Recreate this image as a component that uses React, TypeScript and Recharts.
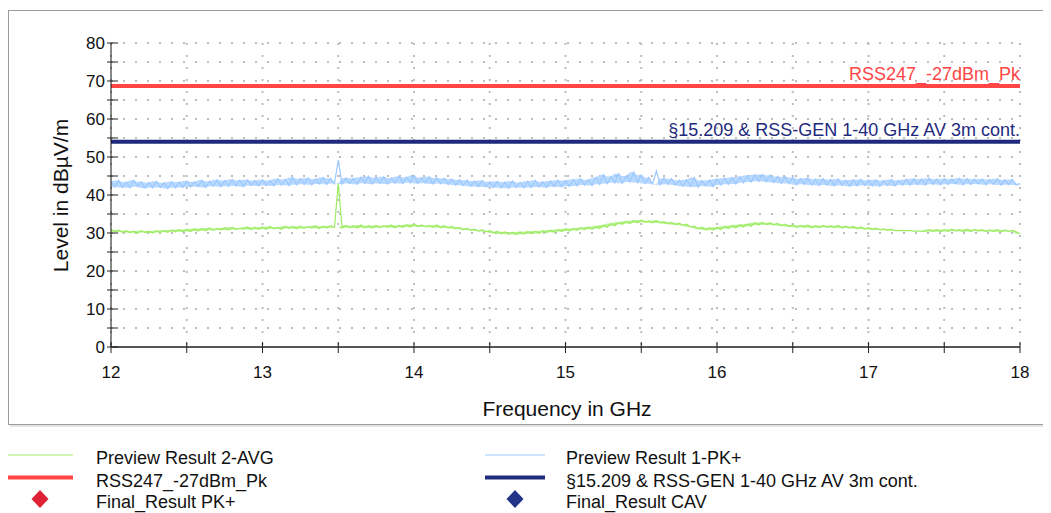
import { Area, CartesianGrid, ComposedChart, Line, ReferenceLine, XAxis, YAxis } from 'recharts';

// sweep grid of the preview scans (GHz)
const FREQ_START = 12;
const FREQ_STEP = 0.025;

// Preview Result 1-PK+ (dBµV/m), one value per sweep step
const PREVIEW_PK = [
  43.6, 42.1, 43.8, 42.0, 43.4, 41.9, 43.9, 42.2, 43.5, 41.8,
  43.3, 41.9, 43.6, 42.0, 43.2, 41.7, 43.5, 41.9, 43.4, 42.0,
  43.7, 42.1, 43.5, 42.2, 43.9, 42.0, 43.6, 42.3, 44.0, 42.2,
  43.8, 42.3, 44.1, 42.4, 43.9, 42.2, 44.0, 42.5, 43.8, 42.4,
  44.0, 42.5, 43.8, 42.4, 44.3, 42.6, 44.1, 42.5, 44.6, 42.7,
  44.3, 42.8, 44.5, 42.7, 44.2, 42.9, 44.6, 42.8, 44.4, 43.0,
  49.2,
  42.9, 44.5, 43.0, 44.4, 42.8, 44.7, 43.1, 44.9, 42.9,
  44.6, 43.0, 44.8, 42.9, 44.5, 43.1, 44.9, 43.0, 44.7, 43.2,
  45.1, 43.0, 44.6, 43.1, 44.8, 42.9, 44.5, 43.0, 44.4, 42.8,
  44.2, 42.6, 44.0, 42.5, 43.9, 42.3, 43.7, 42.2, 43.8, 42.1,
  43.5, 42.0, 43.6, 41.9, 43.4, 41.8, 43.7, 42.0, 43.3, 41.9,
  43.6, 42.0, 43.8, 42.1, 43.5, 42.0, 43.7, 42.2, 43.9, 42.1,
  43.8, 42.3, 44.1, 42.4, 44.3, 42.6, 44.0, 42.5, 44.6, 42.8,
  45.3, 43.0, 44.9, 43.2, 45.6, 43.1, 45.0, 43.4, 46.0, 43.3,
  45.2, 43.0, 44.6, 42.9, 46.3, 42.7, 44.4, 42.8, 44.3, 42.6,
  43.9, 42.3, 44.0, 42.2, 44.6, 42.1, 43.8, 42.4, 43.9, 42.2,
  44.2, 42.6, 44.4, 42.8, 44.6, 42.9, 44.8, 43.2, 45.1, 43.4,
  45.3, 43.6, 45.4, 43.5, 45.2, 43.3, 44.9, 43.1, 44.8, 43.0,
  44.6, 42.7, 44.3, 42.8, 44.5, 42.6, 44.2, 42.5, 44.3, 42.6,
  44.1, 42.4, 44.2, 42.5, 43.9, 42.3, 44.0, 42.4, 44.1, 42.5,
  43.9, 42.4, 44.0, 42.3, 43.8, 42.5, 44.1, 42.4, 43.9, 42.6,
  44.1, 42.6, 44.3, 42.7, 44.2, 42.6, 44.4, 42.8, 44.2, 42.7,
  44.3, 42.8, 44.2, 42.9, 44.4, 42.7, 44.3, 42.8, 44.2, 42.9,
  44.2, 42.7, 44.1, 42.8, 44.3, 42.6, 44.0, 42.7, 44.1, 42.6, 43.0,
];

// Preview Result 2-AVG (dBµV/m)
const PREVIEW_AVG = [
  30.9, 30.3, 30.8, 30.2, 30.6, 30.1, 30.5, 30.0, 30.6, 30.1,
  30.5, 30.0, 30.6, 30.1, 30.7, 30.2, 30.8, 30.3, 30.9, 30.3,
  31.0, 30.4, 31.1, 30.5, 31.2, 30.6, 31.3, 30.7, 31.2, 30.8,
  31.4, 30.8, 31.5, 30.9, 31.3, 31.0, 31.6, 30.9, 31.5, 31.0,
  31.6, 31.0, 31.7, 31.1, 31.5, 31.0, 31.8, 31.2, 31.7, 31.1,
  31.8, 31.2, 31.7, 31.3, 31.9, 31.2, 31.8, 31.3, 31.9, 31.4,
  43.0,
  31.3, 32.0, 31.4, 31.9, 31.3, 32.1, 31.4, 31.9, 31.3,
  32.0, 31.4, 31.9, 31.5, 32.1, 31.4, 32.0, 31.5, 32.2, 31.6,
  32.3, 31.7, 32.1, 31.6, 32.0, 31.5, 32.1, 31.4, 31.9, 31.3,
  31.7, 31.1, 31.5, 30.9, 31.2, 30.7, 31.0, 30.5, 30.8, 30.3,
  30.6, 30.0, 30.4, 29.8, 30.3, 29.7, 30.2, 29.6, 30.3, 29.7,
  30.4, 29.8, 30.5, 29.9, 30.6, 30.1, 30.8, 30.2, 30.9, 30.4,
  31.1, 30.5, 31.2, 30.7, 31.4, 30.9, 31.6, 31.0, 31.8, 31.2,
  32.1, 31.5, 32.5, 31.9, 32.8, 32.3, 33.1, 32.5, 33.3, 32.7,
  33.4, 32.8, 33.2, 32.7, 33.3, 32.6, 33.0, 32.4, 32.8, 32.2,
  32.6, 32.0, 32.3, 31.6, 31.8, 31.1, 31.5, 30.8, 31.4, 30.8,
  31.5, 30.9, 31.8, 31.2, 32.0, 31.4, 32.2, 31.6, 32.4, 31.8,
  32.7, 32.1, 32.8, 32.2, 32.7, 32.1, 32.5, 31.9, 32.3, 31.7,
  32.1, 31.5, 32.0, 31.5, 32.1, 31.4, 31.9, 31.4, 32.0, 31.5,
  31.9, 31.4, 32.0, 31.3, 31.8, 31.3, 31.7, 31.1, 31.6, 31.0,
  31.4, 30.9, 31.3, 30.8, 31.1, 30.7, 31.0, 30.6, 30.7, 30.6,
  30.6, 30.6, 30.5, 30.5, 30.5, 30.4, 30.9, 30.4, 30.9, 30.3,
  30.9, 30.4, 31.0, 30.5, 30.9, 30.4, 31.0, 30.4, 30.9, 30.5,
  30.9, 30.4, 30.8, 30.4, 30.9, 30.3, 30.8, 30.4, 30.7, 30.3, 29.8,
];

const LIMIT_PK = 68.7; // RSS247_-27dBm_Pk
const LIMIT_AV = 54; // §15.209 & RSS-GEN 1-40 GHz AV 3m cont.

const X_TICKS = [12, 12.5, 13, 13.5, 14, 14.5, 15, 15.5, 16, 16.5, 17, 17.5, 18];
const Y_TICKS = [0, 5, 10, 15, 20, 25, 30, 35, 40, 45, 50, 55, 60, 65, 70, 75, 80];

// envelope of neighbouring sweep points, single-point spikes left to the trace itself
function envelope(vals: number[]) {
  const clean = vals.map((v, k) => {
    const p = vals[Math.max(k - 1, 0)];
    const n = vals[Math.min(k + 1, vals.length - 1)];
    return v - Math.max(p, n) > 3 ? Math.max(p, n) : v;
  });
  return clean.map((v, k) => {
    const n = clean[Math.min(k + 1, clean.length - 1)];
    return [Math.min(v, n), Math.max(v, n)];
  });
}

const pkBand = envelope(PREVIEW_PK);
const avgBand = envelope(PREVIEW_AVG);

const rows = PREVIEW_PK.map((pk, i) => ({
  f: FREQ_START + i * FREQ_STEP,
  pk,
  avg: PREVIEW_AVG[i],
  pkBand: pkBand[i],
  avgBand: avgBand[i],
}));

const FONT = '"Liberation Sans", Arial, sans-serif';
const C_PK = '#9cc9ff';
const C_AVG = '#9dec64';
const C_RED = '#ff4545';
const C_NAVY = '#1f2a7c';

function XTick(props: any) {
  const { x, y, payload } = props;
  const v = payload.value;
  return (
    <g>
      <line x1={x} x2={x} y1={y - 5} y2={y + 6} stroke="#222" />
      {Number.isInteger(v) && (
        <text x={x} y={y + 31} textAnchor="middle" fontSize={17} fill="#111">
          {v}
        </text>
      )}
    </g>
  );
}

function YTick(props: any) {
  const { x, y, payload } = props;
  const v = payload.value;
  return (
    <g>
      <line x1={x - 4} x2={x + 7} y1={y} y2={y} stroke="#222" />
      {v % 10 === 0 && (
        <text x={x - 6} y={y + 6} textAnchor="end" fontSize={17} fill="#111">
          {v}
        </text>
      )}
    </g>
  );
}

function limitLabel(text: string, color: string) {
  return (props: any) => {
    const vb = props.viewBox;
    return (
      <text x={vb.x + vb.width} y={vb.y - 6} textAnchor="end" fontSize={18} fill={color}>
        {text}
      </text>
    );
  };
}

function Legend() {
  const items = [
    { x: 7, w: 66, tx: 96, row: 0, color: C_AVG, sw: 1, text: 'Preview Result 2-AVG' },
    { x: 485, w: 60, tx: 566, row: 0, color: C_PK, sw: 1, text: 'Preview Result 1-PK+' },
    { x: 7, w: 66, tx: 96, row: 1, color: C_RED, sw: 4, text: 'RSS247_-27dBm_Pk' },
    { x: 485, w: 60, tx: 566, row: 1, color: C_NAVY, sw: 4, text: '§15.209 & RSS-GEN 1-40 GHz AV 3m cont.' },
  ];
  const marks = [
    { cx: 40, tx: 96, color: '#dd2233', text: 'Final_Result PK+' },
    { cx: 515, tx: 566, color: '#223388', text: 'Final_Result CAV' },
  ];
  const rowY = [17, 39.5, 61];
  return (
    <svg width={1051} height={75} style={{ position: 'absolute', left: -8, top: 430 }}>
      {items.map((it) => (
        <g key={it.text}>
          <line x1={it.x} x2={it.x + it.w} y1={rowY[it.row]} y2={rowY[it.row]} stroke={it.color} strokeWidth={it.sw} />
          <text x={it.tx} y={rowY[it.row] + 9} fontSize={18} fill="#111">
            {it.text}
          </text>
        </g>
      ))}
      {marks.map((m) => (
        <g key={m.text}>
          <polygon
            points={`${m.cx},${rowY[2] - 9} ${m.cx + 8.5},${rowY[2]} ${m.cx},${rowY[2] + 9} ${m.cx - 8.5},${rowY[2]}`}
            fill={m.color}
          />
          <text x={m.tx} y={rowY[2] + 9} fontSize={18} fill="#111">
            {m.text}
          </text>
        </g>
      ))}
    </svg>
  );
}

export default function App() {
  return (
    <div style={{ position: 'relative', width: 1043, height: 505, fontFamily: FONT }}>
      <style>{'body{overflow:hidden}'}</style>
      <div
        style={{
          position: 'absolute',
          left: 0,
          top: 2,
          width: 1037,
          height: 413,
          border: '1px solid #9c9c9c',
          boxShadow: '2px 2px 0 #e4e4e4',
          background: '#fff',
        }}
      >
        <ComposedChart width={1037} height={413} data={rows} margin={{ top: 32, right: 26, bottom: 47, left: 42 }}>
          <CartesianGrid stroke="#bdbdbd" strokeWidth={2} strokeDasharray="2 10" />
          <XAxis
            type="number"
            dataKey="f"
            domain={[12, 18]}
            ticks={X_TICKS}
            interval={0}
            height={30}
            tickSize={0}
            tickMargin={0}
            tick={<XTick />}
            axisLine={{ stroke: '#555', strokeWidth: 2 }}
            label={() => (
              <text x={558} y={405} textAnchor="middle" fontSize={21} fill="#111">
                Frequency in GHz
              </text>
            )}
          />
          <YAxis
            type="number"
            domain={[0, 80]}
            ticks={Y_TICKS}
            interval={0}
            width={60}
            tickSize={0}
            tickMargin={0}
            tick={<YTick />}
            axisLine={{ stroke: '#111', strokeWidth: 1 }}
            label={() => (
              <text
                x={59}
                y={184.5}
                transform="rotate(-90, 59, 184.5)"
                textAnchor="middle"
                fontSize={21}
                fill="#111"
              >
                Level in dBµV/m
              </text>
            )}
          />
          <Area
            type="linear"
            dataKey="pkBand"
            stroke="none"
            fill={C_PK}
            fillOpacity={0.7}
            dot={false}
            activeDot={false}
            isAnimationActive={false}
          />
          <Line
            type="linear"
            dataKey="pk"
            stroke={C_PK}
            strokeWidth={1.2}
            dot={false}
            activeDot={false}
            isAnimationActive={false}
          />
          <Area
            type="linear"
            dataKey="avgBand"
            stroke="none"
            fill={C_AVG}
            fillOpacity={0.7}
            dot={false}
            activeDot={false}
            isAnimationActive={false}
          />
          <Line
            type="linear"
            dataKey="avg"
            stroke={C_AVG}
            strokeWidth={1.2}
            dot={false}
            activeDot={false}
            isAnimationActive={false}
          />
          <ReferenceLine y={LIMIT_PK} stroke={C_RED} strokeWidth={4} label={limitLabel('RSS247_-27dBm_Pk', C_RED)} />
          <ReferenceLine
            y={LIMIT_AV}
            stroke={C_NAVY}
            strokeWidth={4}
            label={limitLabel('§15.209 & RSS-GEN 1-40 GHz AV 3m cont.', C_NAVY)}
          />
        </ComposedChart>
      </div>
      <Legend />
    </div>
  );
}
